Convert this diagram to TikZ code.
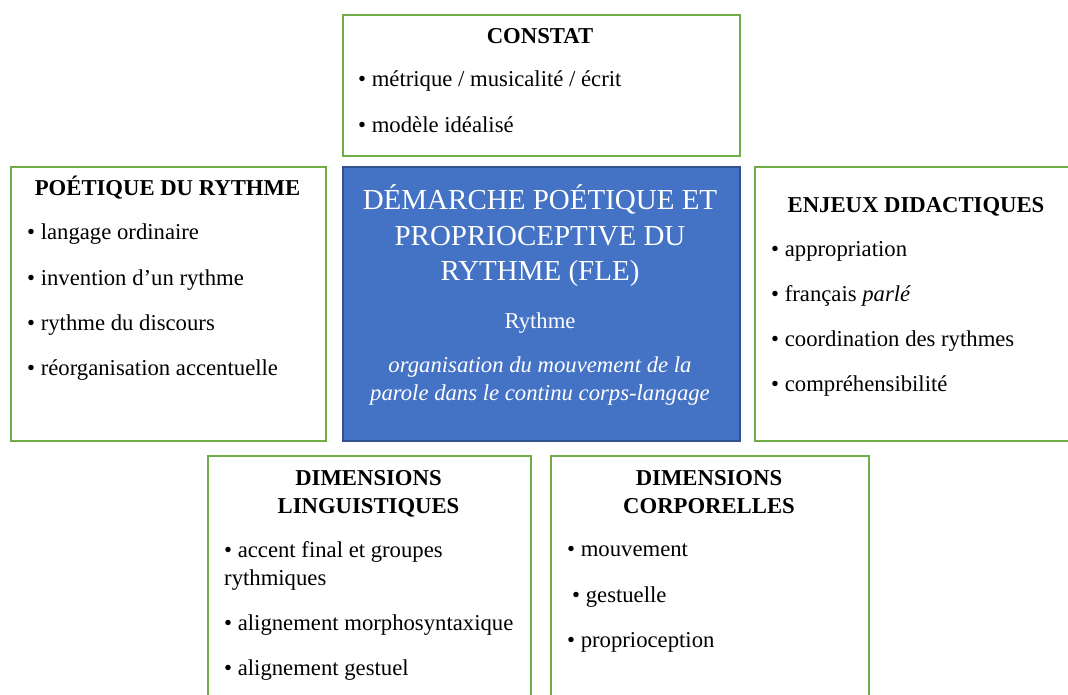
\documentclass[tikz,border=0pt]{standalone}
\usepackage{fontspec}
\setmainfont{Liberation Serif}
\definecolor{boxgreen}{RGB}{112,173,71}
\definecolor{cblue}{RGB}{68,114,196}
\definecolor{cblueline}{RGB}{47,82,143}
\tikzset{
  gbox/.style={draw=boxgreen, line width=2pt, fill=white, anchor=north west, inner sep=0},
  bbox/.style={draw=cblueline, line width=2pt, fill=cblue, anchor=north west, inner sep=0},
  ttl/.style={font=\bfseries\fontsize{22.7}{27}\selectfont, anchor=base, inner sep=0},
  itm/.style={font=\fontsize{22.7}{27}\selectfont, anchor=base west, inner sep=0},
  ctitle/.style={font=\fontsize{29}{34}\selectfont, text=white, anchor=base, inner sep=0},
  ctext/.style={font=\fontsize{22.7}{27}\selectfont, text=white, anchor=base, inner sep=0},
}
\begin{document}
\begin{tikzpicture}[x=1pt,y=-1pt]
\clip (0,0) rectangle (1068,695);
\fill[white] (0,0) rectangle (1068,695);
% boxes
\node[gbox, minimum width=397, minimum height=141] (constat) at (342,14) {};
\node[bbox, minimum width=397, minimum height=274] (centre) at (342,166) {};
\node[gbox, minimum width=315, minimum height=274] (poetique) at (10,166) {};
\node[gbox, minimum width=330, minimum height=274] (enjeux) at (754,166) {};
\node[gbox, minimum width=323, minimum height=260] (ling) at (207,455) {};
\node[gbox, minimum width=318, minimum height=260] (corp) at (550,455) {};
% CONSTAT
\node[ttl] (t1) at (540,44) {CONSTAT};
\node[itm] (c1) at (358,87) {• métrique / musicalité / écrit};
\node[itm] (c2) at (358,133) {• modèle idéalisé};
% centre
\node[ctitle] (m1) at (540,210) {DÉMARCHE POÉTIQUE ET};
\node[ctitle] (m2) at (540,245) {PROPRIOCEPTIVE DU};
\node[ctitle] (m3) at (540,280) {RYTHME (FLE)};
\node[ctext] (m4) at (540,328) {Rythme};
\node[ctext, font=\itshape\fontsize{22.7}{27}\selectfont] (m5) at (540,372) {organisation du mouvement de la};
\node[ctext, font=\itshape\fontsize{22.7}{27}\selectfont] (m6) at (540,400) {parole dans le continu corps-langage};
% POETIQUE
\node[ttl] (t2) at (167.5,196) {POÉTIQUE DU RYTHME};
\node[itm] (p1) at (27,240) {• langage ordinaire};
\node[itm] (p2) at (27,285) {• invention d’un rythme};
\node[itm] (p3) at (27,330) {• rythme du discours};
\node[itm] (p4) at (27,375) {• réorganisation accentuelle};
% ENJEUX
\node[ttl] (t3) at (916,212) {ENJEUX DIDACTIQUES};
\node[itm] (e1) at (771,256) {• appropriation};
\node[itm] (e2) at (771,301) {• français \textit{parlé}};
\node[itm] (e3) at (771,346) {• coordination des rythmes};
\node[itm] (e4) at (771,391) {• compréhensibilité};
% LINGUISTIQUES
\node[ttl] (t4a) at (368.5,485) {DIMENSIONS};
\node[ttl] (t4b) at (368.5,513) {LINGUISTIQUES};
\node[itm] (l1) at (224,557) {• accent final et groupes};
\node[itm] (l1b) at (224,585) {rythmiques};
\node[itm] (l2) at (224,630) {• alignement morphosyntaxique};
\node[itm] (l3) at (224,675) {• alignement gestuel};
% CORPORELLES
\node[ttl] (t5a) at (709,485) {DIMENSIONS};
\node[ttl] (t5b) at (709,513) {CORPORELLES};
\node[itm] (k1) at (567,556) {• mouvement};
\node[itm] (k2) at (572,602) {• gestuelle};
\node[itm] (k3) at (567,647) {• proprioception};
\end{tikzpicture}
\end{document}
